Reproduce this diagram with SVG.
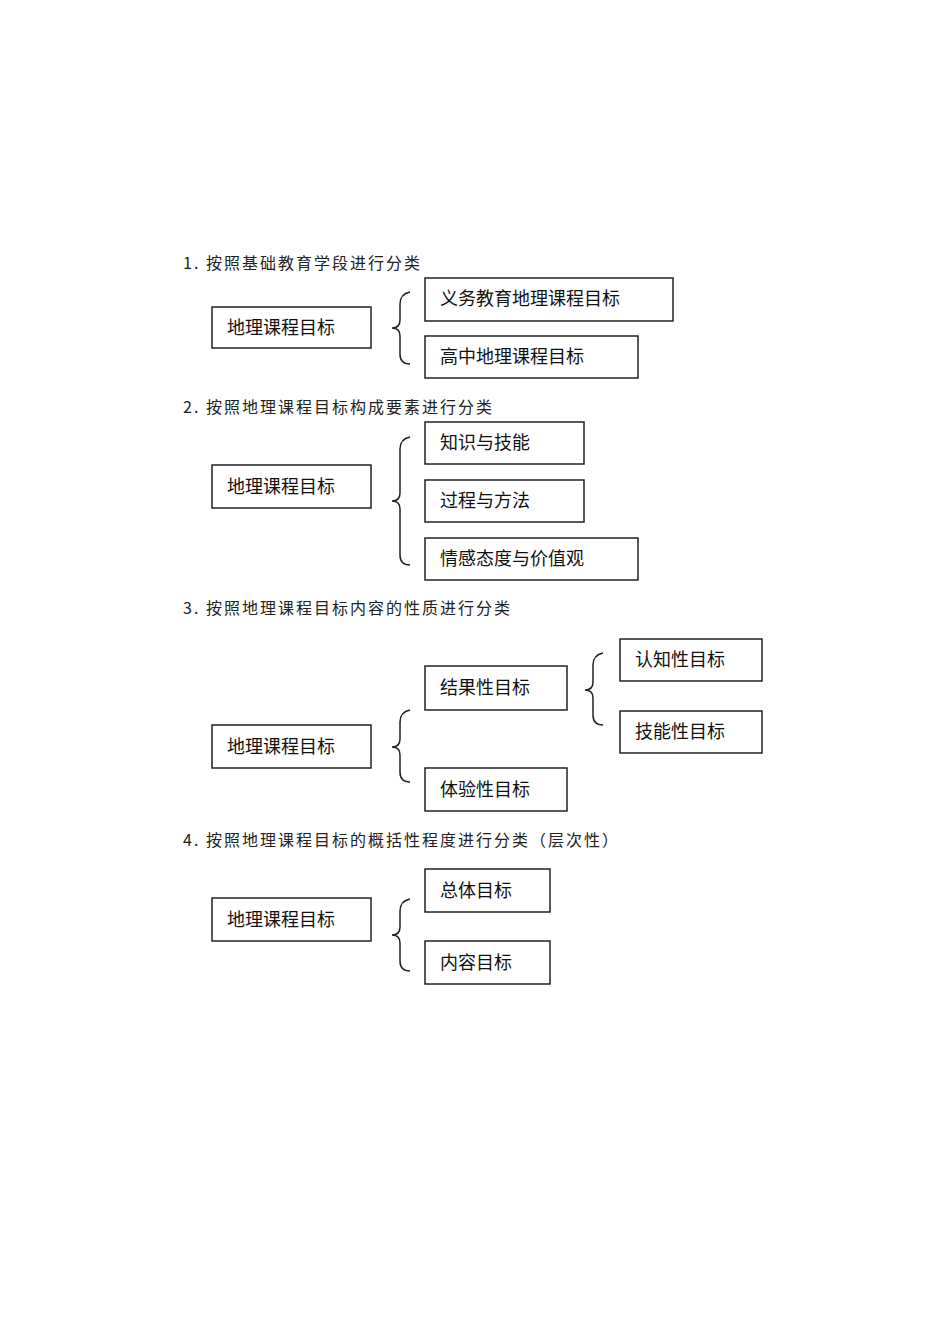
<svg xmlns="http://www.w3.org/2000/svg" width="950" height="1344" viewBox="0 0 950 1344">
<style>
.b{fill:#fff;stroke:#222;stroke-width:1.5}
.t{font-family:"Noto Sans CJK SC","Noto Sans",sans-serif;font-size:18px;fill:#111}
.h{font-family:"Noto Sans CJK SC","Noto Sans",sans-serif;font-size:16px;fill:#222;letter-spacing:2px}
.c{fill:none;stroke:#222;stroke-width:1.5}
</style>
<rect width="950" height="1344" fill="#fff"/>
<g id="headings">
<text class="h" x="183" y="269">1. 按照基础教育学段进行分类</text>
<text class="h" x="183" y="413">2. 按照地理课程目标构成要素进行分类</text>
<text class="h" x="183" y="614">3. 按照地理课程目标内容的性质进行分类</text>
<text class="h" x="183" y="846">4. 按照地理课程目标的概括性程度进行分类（层次性）</text>
</g>
<g id="connectors">
<path class="c" d="M410,292 Q400,294 400,304 L400,320 Q400,328 392,328 Q400,328 400,336 L400,354 Q400,364 410,364"/>
<path class="c" d="M410,437 Q400,439 400,449 L400,493 Q400,501 392,501 Q400,501 400,509 L400,555 Q400,565 410,565"/>
<path class="c" d="M410,710 Q400,712 400,722 L400,739 Q400,747 392,747 Q400,747 400,755 L400,772 Q400,782 410,782"/>
<path class="c" d="M603,653 Q593,655 593,665 L593,682 Q593,690 585,690 Q593,690 593,698 L593,715 Q593,725 603,725"/>
<path class="c" d="M410,899 Q400,901 400,911 L400,927 Q400,935 392,935 Q400,935 400,943 L400,961 Q400,971 410,971"/>
</g>
<g id="s1root"><rect class="b" x="212" y="307" width="159" height="41"/><text class="t" x="227" y="334">地理课程目标</text></g>
<g id="s1a"><rect class="b" x="425" y="278" width="248" height="43"/><text class="t" x="440" y="305">义务教育地理课程目标</text></g>
<g id="s1b"><rect class="b" x="425" y="336" width="213" height="42"/><text class="t" x="440" y="363">高中地理课程目标</text></g>
<g id="s2root"><rect class="b" x="212" y="465" width="159" height="43"/><text class="t" x="227" y="493">地理课程目标</text></g>
<g id="s2a"><rect class="b" x="425" y="422" width="159" height="42"/><text class="t" x="440" y="449">知识与技能</text></g>
<g id="s2b"><rect class="b" x="425" y="480" width="159" height="42"/><text class="t" x="440" y="507">过程与方法</text></g>
<g id="s2c"><rect class="b" x="425" y="538" width="213" height="42"/><text class="t" x="440" y="565">情感态度与价值观</text></g>
<g id="s3root"><rect class="b" x="212" y="725" width="159" height="43"/><text class="t" x="227" y="753">地理课程目标</text></g>
<g id="s3a"><rect class="b" x="425" y="666" width="142" height="44"/><text class="t" x="440" y="694">结果性目标</text></g>
<g id="s3b"><rect class="b" x="425" y="768" width="142" height="43"/><text class="t" x="440" y="796">体验性目标</text></g>
<g id="s3c"><rect class="b" x="620" y="639" width="142" height="42"/><text class="t" x="635" y="666">认知性目标</text></g>
<g id="s3d"><rect class="b" x="620" y="711" width="142" height="42"/><text class="t" x="635" y="738">技能性目标</text></g>
<g id="s4root"><rect class="b" x="212" y="898" width="159" height="43"/><text class="t" x="227" y="926">地理课程目标</text></g>
<g id="s4a"><rect class="b" x="425" y="869" width="125" height="43"/><text class="t" x="440" y="897">总体目标</text></g>
<g id="s4b"><rect class="b" x="425" y="941" width="125" height="43"/><text class="t" x="440" y="969">内容目标</text></g>
</svg>
